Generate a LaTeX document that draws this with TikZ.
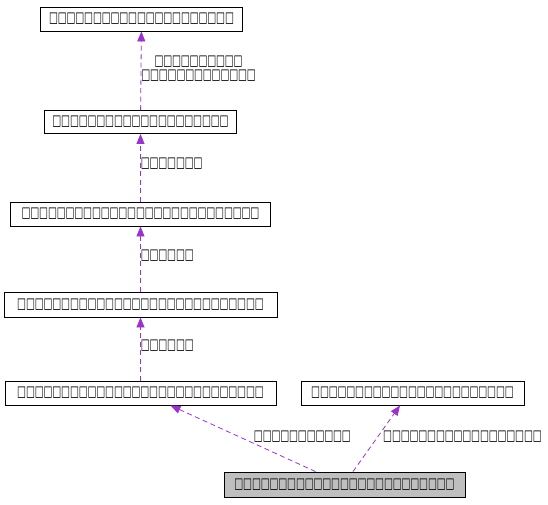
\documentclass[tikz,border=0pt]{standalone}
\usepackage{fontspec}
\usepackage{tikz}
\usetikzlibrary{shapes,arrows.meta}
\setmainfont{DejaVu Sans}
\definecolor{orchid}{HTML}{9A32CD}
\definecolor{classgray}{HTML}{BFBFBF}
\newcommand\tofuchar{\makebox[8.8pt]{\raisebox{0pt}[9pt][2pt]{\scalebox{0.86}[1.35]{\fontsize{11}{12}\selectfont\bfseries □}}}}
\newcommand\tofu[1]{\foreach \k in {1,...,#1}{\tofuchar}}
\tikzstyle{block} = [rectangle, draw, fill=white, text centered, minimum height=24pt, inner sep=0pt, line width=0.9pt]
\tikzstyle{line} = [draw, orchid, line width=0.8pt, dash pattern=on 5pt off 3.5pt, -{Triangle[length=10pt,width=8pt]}]
\tikzstyle{lbl} = [text=black, inner sep=0pt, anchor=west, align=center, font=\fontsize{10}{13.5}\selectfont]

\begin{document}
\begin{tikzpicture}[x=1pt, y=1pt]
      \useasboundingbox (0,0) rectangle (548,504);
      \node [block, fill=classgray, minimum width=241pt, minimum height=25pt] (docfile) at (344.5,19.5) {\tofu{25}};
      \node [block, minimum width=271pt] (base) at (140.5,111) {\tofu{28}};
      \node [block, minimum width=223pt] (iface) at (412.5,111) {\tofu{23}};
      \node [block, minimum width=273pt, minimum height=25pt, above of=base, node distance=88.5pt] (mid) {\tofu{28}};
      \node [block, minimum width=260pt, above of=mid, node distance=90.5pt] (upper) {\tofu{27}};
      \node [block, minimum width=192pt, minimum height=23pt, above of=upper, node distance=92pt] (core) {\tofu{20}};
      \node [block, minimum width=202pt, xshift=1pt, above of=core, node distance=103pt] (root) {\tofu{21}};

      \path [line] (core) -- node [lbl, pos=0.52] {\tofu{10}\\\tofu{13}} (root);
      \path [line] (upper) -- node [lbl, pos=0.55] {\tofu{7}} (core);
      \path [line] (mid) -- node [lbl, pos=0.55] {\tofu{6}} (upper);
      \path [line] (base) -- node [lbl, pos=0.55] {\tofu{6}} (mid);
      \path [line] ([xshift=-29pt]docfile.north) -- node [lbl, pos=0.53, xshift=15pt] {\tofu{11}} ([xshift=30pt]base.south);
      \path [line] ([xshift=8.5pt]docfile.north) -- node [lbl, pos=0.53, xshift=5pt] {\tofu{18}} ([xshift=-12.5pt]iface.south);
    \end{tikzpicture}
\end{document}
